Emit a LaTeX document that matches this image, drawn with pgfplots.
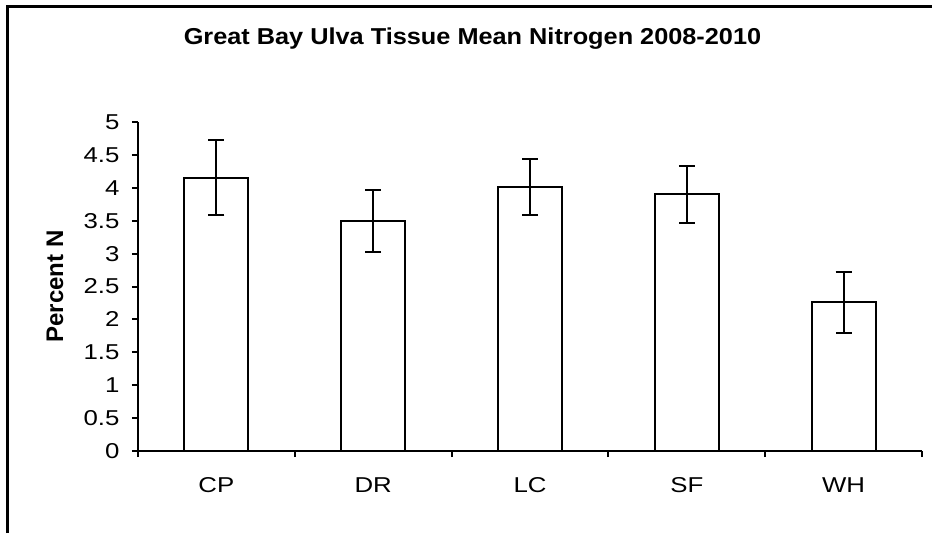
\documentclass[border=0pt]{standalone}
\usepackage{pgfplots}
\pgfplotsset{compat=1.18}
\usepackage{fontspec}
\setmainfont[FakeStretch=1.2]{Liberation Sans}
\newfontfamily\titlefont[FakeStretch=1.1]{Liberation Sans}
\newfontfamily\labelfont{Liberation Sans}
\begin{document}
\begin{tikzpicture}
\useasboundingbox (0,0) rectangle (932pt,533pt);
\fill[white] (0,0) rectangle (932pt,533pt);
\draw[line width=2.5pt] (7.5pt,0) -- (7.5pt,526.5pt) -- (932pt,526.5pt);
\begin{axis}[
  at={(138pt,82pt)}, anchor=south west,
  scale only axis, width=784pt, height=329pt,
  xmin=0, xmax=5, ymin=0, ymax=5,
  enlargelimits=false,
  axis lines*=left,
  axis line style={-, line width=2pt},
  tick align=outside,
  major tick length=6pt,
  every tick/.style={black, line width=2pt},
  ytick={0,0.5,1,1.5,2,2.5,3,3.5,4,4.5,5},
  /pgf/number format/assume math mode=true,
  yticklabel style={font=\fontsize{21.5}{25}\selectfont, xshift=-9pt},
  xtick={0,1,2,3,4,5},
  xticklabels={},
  extra x ticks={0.5,1.5,2.5,3.5,4.5},
  extra x tick labels={CP,DR,LC,SF,WH},
  extra x tick style={major tick length=0pt, tick label style={font=\fontsize{21.5}{25}\selectfont, yshift=-23pt}},
  ylabel={Percent N},
  ylabel style={at={(axis description cs:-0.1059,0.5)}, anchor=center, font=\labelfont\fontsize{24}{28}\selectfont\bfseries},
  title={Great Bay Ulva Tissue Mean Nitrogen 2008-2010},
  title style={at={(axis description cs:0.4267,1.2188)}, anchor=base, font=\titlefont\fontsize{23}{27}\selectfont\bfseries},
]
\addplot[ybar, bar width=64pt, fill=white, draw=black, line width=2pt,
  error bars/.cd, y dir=both, y explicit,
  error bar style={line width=2pt, black},
  error mark options={rotate=90, mark size=8pt, line width=2pt, black}]
  table[x=x, y=y, y error=e] {
x y e
0.5 4.15 0.57
1.5 3.49 0.47
2.5 4.01 0.43
3.5 3.90 0.435
4.5 2.26 0.465
};
\end{axis}
\end{tikzpicture}
\end{document}
